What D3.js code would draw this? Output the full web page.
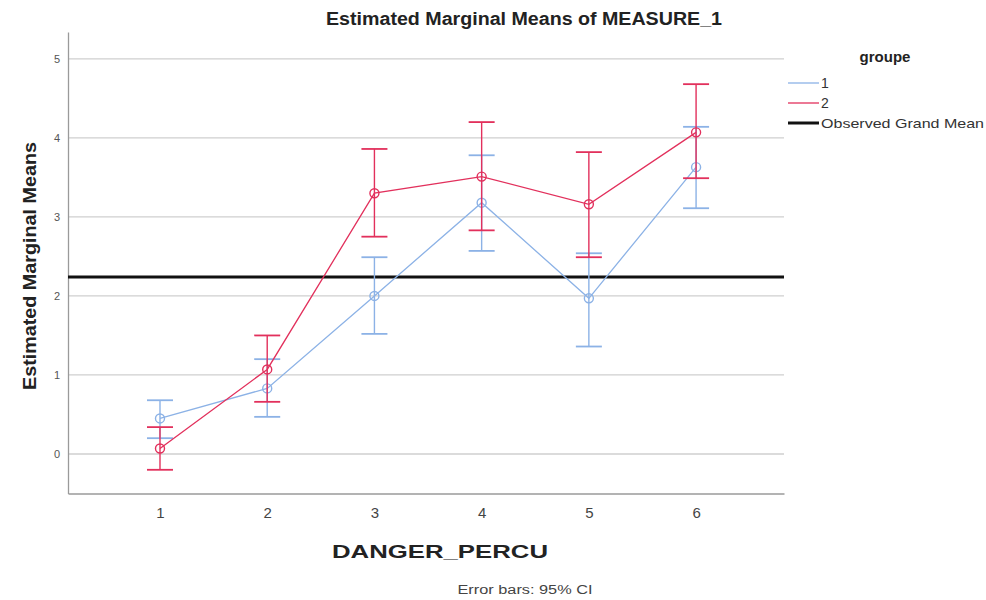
<!DOCTYPE html>
<html><head><meta charset="utf-8">
<script src="https://cdn.jsdelivr.net/npm/d3@7"></script>
<style>body{margin:0;background:#fff}svg{display:block}text{font-family:"Liberation Sans",Arial,sans-serif}</style>
</head><body><svg id="c" width="986" height="600"></svg>
<script>
const categories = [1, 2, 3, 4, 5, 6];
const groupNames = ["1", "2"];
const g1Mean = [0.45, 0.83, 2.00, 3.18, 1.97, 3.63];
const g1Low  = [0.20, 0.47, 1.52, 2.57, 1.36, 3.11];
const g1High = [0.68, 1.20, 2.49, 3.78, 2.54, 4.14];
const g2Mean = [0.07, 1.07, 3.30, 3.51, 3.16, 4.07];
const g2Low  = [-0.20, 0.66, 2.75, 2.83, 2.49, 3.49];
const g2High = [0.34, 1.50, 3.86, 4.20, 3.82, 4.68];
const grandMean = 2.24;
const yTicks = [0, 1, 2, 3, 4, 5];

const svg = d3.select("#c");
const x = d3.scaleLinear().domain([0.142, 6.82]).range([68, 784]);
const y = d3.scaleLinear().domain([-0.5, 5.34]).range([493.5, 32]);
const colors = ["#8cb2e6", "#e2305c"];

// gridlines
svg.append("g").selectAll("line").data(yTicks).join("line")
  .attr("x1", x(0.142)).attr("x2", x(6.82))
  .attr("y1", d => y(d)).attr("y2", d => y(d))
  .attr("stroke", "#cfcfcf").attr("stroke-width", 1.3);

// axes
const yAxis = d3.axisLeft(y).tickValues(yTicks).tickSize(0).tickPadding(8).tickFormat(d3.format("d"));
const ya = svg.append("g").attr("transform", `translate(${x(0.142)},0)`).call(yAxis);
ya.select(".domain").attr("stroke", "#9a9a9a").attr("stroke-width", 1.3);
ya.selectAll("text").attr("font-size", 11).attr("fill", "#555").attr("font-family", "Liberation Sans, Arial");

const xAxis = d3.axisBottom(x).tickValues(categories).tickSize(0).tickPadding(14).tickFormat(d3.format("d"));
const xa = svg.append("g").attr("transform", `translate(0,${y(-0.5)})`).call(xAxis);
xa.select(".domain").attr("stroke", "#9a9a9a").attr("stroke-width", 1.3);
xa.selectAll("text").attr("font-size", 15).attr("fill", "#444").attr("font-family", "Liberation Sans, Arial");

// grand mean
svg.append("line").attr("x1", x(0.142)).attr("x2", x(6.82))
  .attr("y1", y(grandMean)).attr("y2", y(grandMean))
  .attr("stroke", "#111").attr("stroke-width", 3);

const groups = [
  {name: groupNames[0], mean: g1Mean, low: g1Low, high: g1High, color: colors[0]},
  {name: groupNames[1], mean: g2Mean, low: g2Low, high: g2High, color: colors[1]}
];
const line = d3.line().x((d, i) => x(categories[i])).y(d => y(d));
const cap = 13;
groups.forEach(gr => {
  const g = svg.append("g");
  g.append("path").datum(gr.mean).attr("d", line).attr("fill", "none")
    .attr("stroke", gr.color).attr("stroke-width", 1.3);
  categories.forEach((c, i) => {
    const cx = x(c);
    g.append("line").attr("x1", cx).attr("x2", cx).attr("y1", y(gr.low[i])).attr("y2", y(gr.high[i]))
      .attr("stroke", gr.color).attr("stroke-width", 1.4);
    [gr.low[i], gr.high[i]].forEach(v => {
      g.append("line").attr("x1", cx - cap).attr("x2", cx + cap).attr("y1", y(v)).attr("y2", y(v))
        .attr("stroke", gr.color).attr("stroke-width", 1.8);
    });
  });
  g.selectAll("circle").data(gr.mean).join("circle")
    .attr("cx", (d, i) => x(categories[i])).attr("cy", d => y(d)).attr("r", 4.5)
    .attr("fill", "none").attr("stroke", gr.color).attr("stroke-width", 1.4);
});

// titles
svg.append("text").attr("x", 524).attr("y", 25).attr("text-anchor", "middle")
  .attr("font-size", 18).attr("font-weight", "bold").attr("fill", "#222")
  .attr("textLength", 396).attr("lengthAdjust", "spacingAndGlyphs")
  .text("Estimated Marginal Means of MEASURE_1");
svg.append("text").attr("x", 440).attr("y", 558).attr("text-anchor", "middle")
  .attr("font-size", 18).attr("font-weight", "bold").attr("fill", "#222")
  .attr("textLength", 216).attr("lengthAdjust", "spacingAndGlyphs")
  .text("DANGER_PERCU");
svg.append("text").attr("transform", "translate(36,266) rotate(-90)").attr("text-anchor", "middle")
  .attr("font-size", 18).attr("font-weight", "bold").attr("fill", "#222")
  .attr("textLength", 248).attr("lengthAdjust", "spacingAndGlyphs")
  .text("Estimated Marginal Means");
svg.append("text").attr("x", 525).attr("y", 594).attr("text-anchor", "middle")
  .attr("font-size", 12.5).attr("fill", "#444")
  .attr("textLength", 135).attr("lengthAdjust", "spacingAndGlyphs")
  .text("Error bars: 95% CI");

// legend
const lg = svg.append("g");
lg.append("text").attr("x", 885).attr("y", 62).attr("text-anchor", "middle")
  .attr("font-size", 15).attr("font-weight", "bold").attr("fill", "#222").text("groupe");
const legItems = [
  {label: groupNames[0], color: colors[0], w: 1.3},
  {label: groupNames[1], color: colors[1], w: 1.3},
  {label: "Observed Grand Mean", color: "#111", w: 3}
];
legItems.forEach((it, i) => {
  const yy = 83 + i * 20;
  lg.append("line").attr("x1", 788).attr("x2", 819).attr("y1", yy).attr("y2", yy)
    .attr("stroke", it.color).attr("stroke-width", it.w);
  const t = lg.append("text").attr("x", 821).attr("y", yy + 5).attr("font-size", i < 2 ? 14 : 13)
    .attr("fill", "#333").text(it.label);
  if (i === 2) t.attr("textLength", 163).attr("lengthAdjust", "spacingAndGlyphs");
});
</script></body></html>
